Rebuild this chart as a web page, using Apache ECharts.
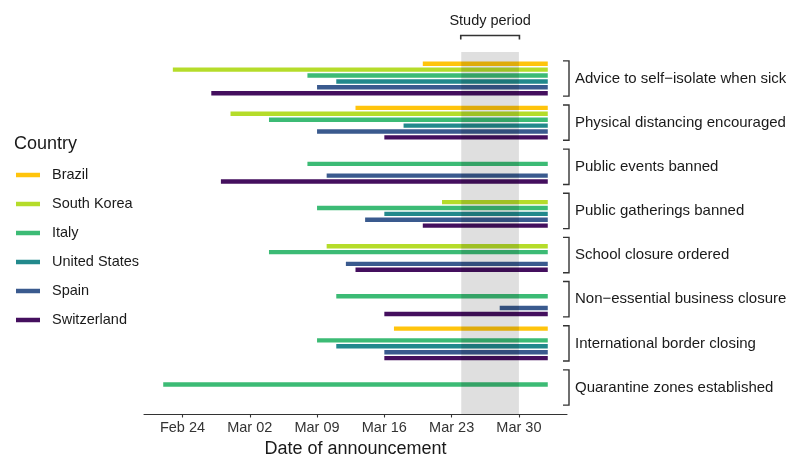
<!DOCTYPE html>
<html>
<head>
<meta charset="utf-8">
<script src="https://cdn.jsdelivr.net/npm/echarts@6/dist/echarts.min.js"></script>
<style>html,body{margin:0;padding:0;background:#fff}#c{width:786px;height:454px}</style>
</head>
<body>
<div id="c"></div>
<script>
const measures = [
  "Advice to self\u2212isolate when sick",
  "Physical distancing encouraged",
  "Public events banned",
  "Public gatherings banned",
  "School closure ordered",
  "Non\u2212essential business closure",
  "International border closing",
  "Quarantine zones established"
];
const countries = ["Brazil", "South Korea", "Italy", "United States", "Spain", "Switzerland"];
const countryColors = ["#FFC40C", "#B5DC2A", "#3CBB75", "#22898C", "#3A5A8E", "#440F5E"];
// announcement (start) dates per measure, in the order of `measures`
const startBrazil       = ["2020-03-20", "2020-03-13", null, null, null, null, "2020-03-17", null];
const startSouthKorea   = ["2020-02-23", "2020-02-29", null, "2020-03-22", "2020-03-10", null, null, null];
const startItaly        = ["2020-03-08", "2020-03-04", "2020-03-08", "2020-03-09", "2020-03-04", "2020-03-11", "2020-03-09", "2020-02-22"];
const startUnitedStates = ["2020-03-11", "2020-03-18", null, "2020-03-16", null, null, "2020-03-11", null];
const startSpain        = ["2020-03-09", "2020-03-09", "2020-03-10", "2020-03-14", "2020-03-12", "2020-03-28", "2020-03-16", null];
const startSwitzerland  = ["2020-02-27", "2020-03-16", "2020-02-28", "2020-03-20", "2020-03-13", "2020-03-16", "2020-03-16", null];
const endDate = "2020-04-02";
const studyPeriod = ["2020-03-24", "2020-03-30"];
const axisRange = ["2020-02-20", "2020-04-04"];
const tickDates = ["2020-02-24", "2020-03-02", "2020-03-09", "2020-03-16", "2020-03-23", "2020-03-30"];
const tickLabels = ["Feb 24", "Mar 02", "Mar 09", "Mar 16", "Mar 23", "Mar 30"];

const starts = [startBrazil, startSouthKorea, startItaly, startUnitedStates, startSpain, startSwitzerland];
const DAY0 = Date.UTC(2020, 1, 24);
function dayOf(s) {
  const p = s.split('-').map(Number);
  return Math.round((Date.UTC(p[0], p[1] - 1, p[2]) - DAY0) / 86400000);
}
const FONT = '"Liberation Sans", Arial, Helvetica, sans-serif';
const TXT = '#1a1a1a';
const DODGE = 0.8;

const chart = echarts.init(document.getElementById('c'), null, {renderer: 'canvas'});

const series = [];
countries.forEach((name, ci) => {
  const data = [];
  starts[ci].forEach((s, mi) => { if (s) data.push([dayOf(s), dayOf(endDate), mi]); });
  series.push({
    type: 'custom', name: name, z: 2,
    itemStyle: {color: countryColors[ci]},
    encode: {x: [0, 1], y: 2},
    data: data,
    renderItem: function (params, api) {
      const yv = api.value(2) - DODGE / 2 + (ci + 0.5) * DODGE / countries.length;
      const p1 = api.coord([api.value(0), yv]);
      const p2 = api.coord([api.value(1), yv]);
      const h = 4.4;
      return {type: 'rect', shape: {x: p1[0], y: p1[1] - h / 2, width: p2[0] - p1[0], height: h},
              style: {fill: countryColors[ci]}};
    }
  });
});

// study period shading and bracket
series.push({
  type: 'custom', name: 'study', z: 5, clip: false, silent: true,
  encode: {x: [0, 1]},
  data: [[dayOf(studyPeriod[0]), dayOf(studyPeriod[1])]],
  renderItem: function (params, api) {
    const a = api.coord([api.value(0), -0.6]);
    const b = api.coord([api.value(1), 7.6]);
    const ty = a[1] - 16.5;
    return {type: 'group', children: [
      {type: 'rect', shape: {x: a[0], y: a[1], width: b[0] - a[0], height: b[1] - a[1]},
       style: {fill: 'rgba(0,0,0,0.125)'}},
      {type: 'polyline', shape: {points: [[a[0] - 0.5, ty + 4], [a[0] - 0.5, ty], [b[0] + 0.5, ty], [b[0] + 0.5, ty + 4]]},
       style: {stroke: '#333', lineWidth: 1.6, fill: null}},
      {type: 'text', x: (a[0] + b[0]) / 2, y: a[1] - 31,
       style: {text: 'Study period', fill: TXT, font: '14.5px ' + FONT, align: 'center', verticalAlign: 'middle'}}
    ]};
  }
});

// right-side group brackets and labels
series.push({
  type: 'custom', name: 'groups', z: 3, clip: false, silent: true,
  encode: {x: 0, y: 1},
  data: measures.map((m, i) => [dayOf(axisRange[1]), i]),
  renderItem: function (params, api) {
    const i = api.value(1);
    const p = api.coord([api.value(0), i]);
    const half = Math.abs(api.coord([api.value(0), i + DODGE / 2])[1] - p[1]);
    const x = p[0] + 2;
    return {type: 'group', children: [
      {type: 'polyline', shape: {points: [[x - 6, p[1] - half], [x, p[1] - half], [x, p[1] + half], [x - 6, p[1] + half]]},
       style: {stroke: '#333', lineWidth: 1.4, fill: null}},
      {type: 'text', x: x + 6, y: p[1],
       style: {text: measures[i], fill: TXT, font: '15px ' + FONT, align: 'left', verticalAlign: 'middle'}}
    ]};
  }
});

const tickVals = tickDates.map(dayOf);

chart.setOption({
  animation: false,
  textStyle: {fontFamily: FONT},
  title: {text: 'Country', left: 14, top: 135, padding: 0,
          textStyle: {fontSize: 18, fontWeight: 'normal', color: TXT, fontFamily: FONT}},
  legend: {
    data: countries, orient: 'vertical', left: 16, top: 167, padding: 0,
    icon: 'rect', itemWidth: 24, itemHeight: 4.5, itemGap: 13, selectedMode: false,
    textStyle: {fontSize: 14.5, lineHeight: 16, color: TXT, fontFamily: FONT, padding: [0, 0, 0, 7]}
  },
  grid: {left: 144, right: 219, top: 52, bottom: 40, containLabel: false, outerBoundsMode: 'none'},
  xAxis: {
    type: 'value', min: dayOf(axisRange[0]), max: dayOf(axisRange[1]),
    name: 'Date of announcement', nameLocation: 'middle', nameGap: 26,
    nameTextStyle: {fontSize: 18, color: TXT, fontFamily: FONT},
    axisLine: {show: true, onZero: false, lineStyle: {color: '#333', width: 1.1}},
    axisTick: {show: true, length: 3.5, lineStyle: {color: '#333', width: 1.1}, customValues: tickVals},
    axisLabel: {fontSize: 14.5, color: '#333', margin: 6, fontFamily: FONT, customValues: tickVals,
                formatter: function (v) { const k = tickVals.indexOf(Math.round(v)); return k >= 0 ? tickLabels[k] : ''; }},
    splitLine: {show: false}
  },
  yAxis: {type: 'value', min: -0.6, max: 7.6, inverse: true, show: false},
  series: series
});
</script>
</body>
</html>
